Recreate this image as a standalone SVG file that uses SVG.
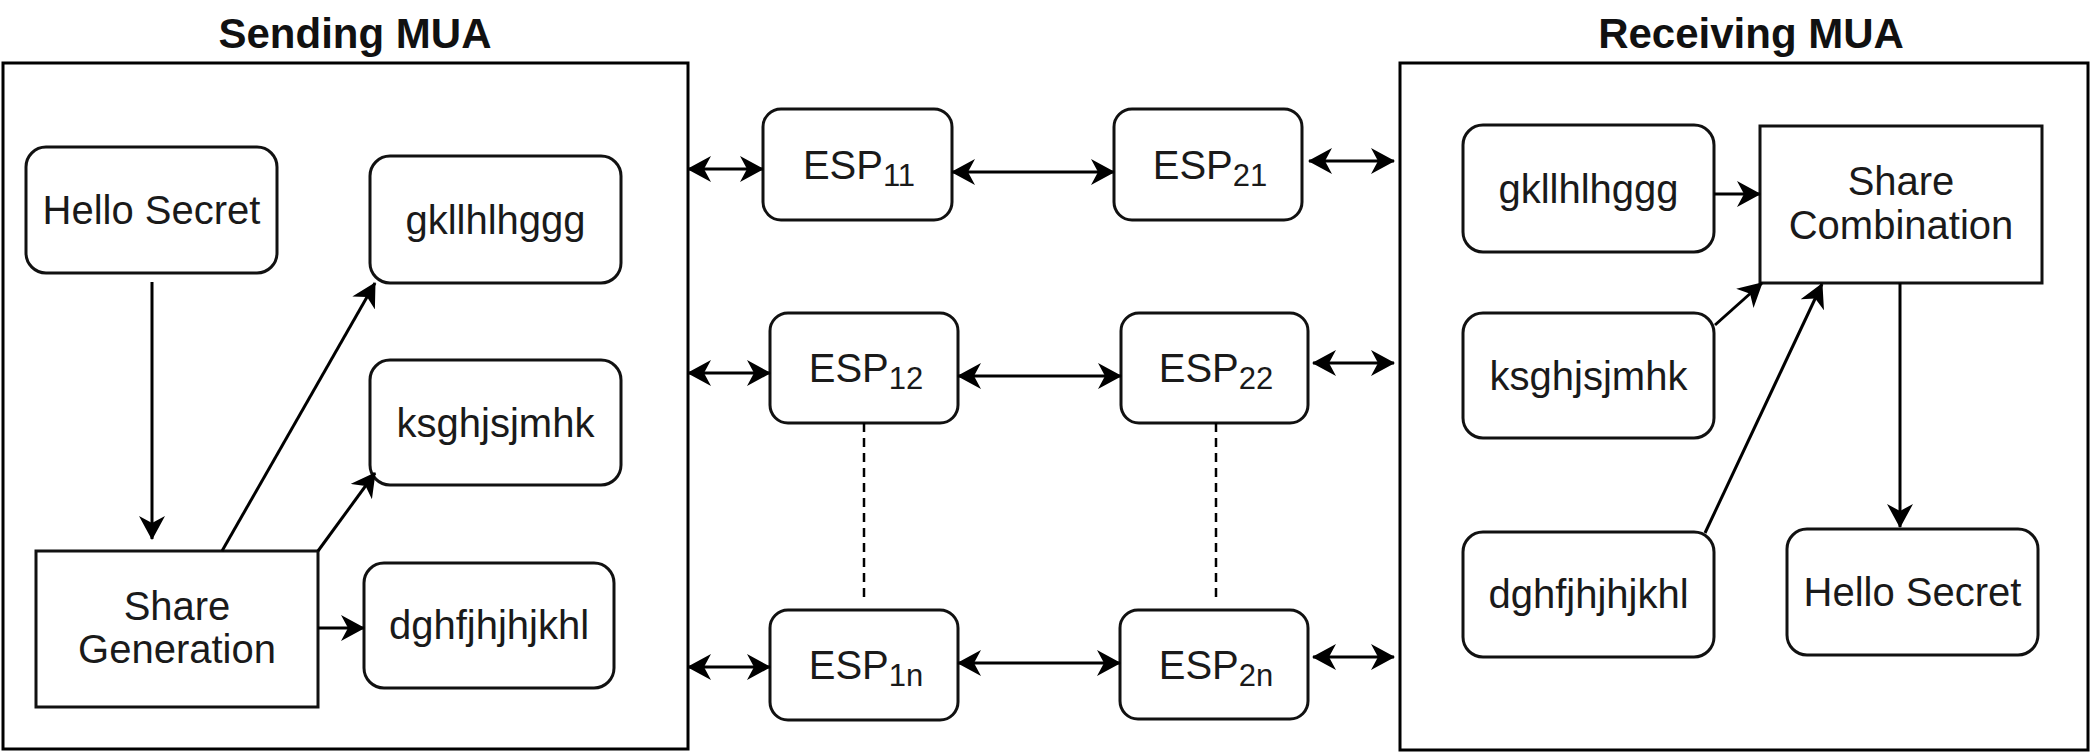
<svg xmlns="http://www.w3.org/2000/svg" width="2091" height="753" viewBox="0 0 2091 753">
<style>
  .frame{fill:#fff;stroke:#000;stroke-width:3}
  .node{fill:#fff;stroke:#111;stroke-width:3}
  .lbl{font-family:"Liberation Sans",Arial,sans-serif;font-size:40px;fill:#1a1a1a;text-anchor:middle}
  .title{font-family:"Liberation Sans",Arial,sans-serif;font-size:42px;font-weight:bold;fill:#111;text-anchor:middle}
  .esp{font-family:"Liberation Sans",Arial,sans-serif;font-size:40px;fill:#1a1a1a;text-anchor:middle}
  .sub{font-size:31px}
  .edge{fill:none;stroke:#000;stroke-width:3}
  .dash{fill:none;stroke:#000;stroke-width:2.5;stroke-dasharray:9 6}
</style>
<defs>
  <marker id="arr" markerUnits="userSpaceOnUse" viewBox="0 0 24 26" refX="23" refY="13" markerWidth="24" markerHeight="26" orient="auto-start-reverse">
    <path d="M0,0 L24,13 L0,26 L7,13 Z" fill="#000"/>
  </marker>
</defs>
<rect width="2091" height="753" fill="#fff"/>

<g id="sending-mua">
  <text class="title" x="355" y="48">Sending MUA</text>
  <rect class="frame" x="3" y="63" width="685" height="686"/>
</g>
<g id="receiving-mua">
  <text class="title" x="1751" y="48">Receiving MUA</text>
  <rect class="frame" x="1400" y="63" width="688" height="687"/>
</g>

<g id="hello-secret-send">
  <rect class="node" x="26" y="147" width="251" height="126" rx="20"/>
  <text class="lbl" x="151.5" y="224">Hello Secret</text>
</g>
<g id="share-generation">
  <rect class="node" x="36" y="551" width="282" height="156"/>
  <text class="lbl" x="177" y="620">Share</text>
  <text class="lbl" x="177" y="663">Generation</text>
</g>
<g id="share1-send">
  <rect class="node" x="370" y="156" width="251" height="127" rx="20"/>
  <text class="lbl" x="495.5" y="234">gkllhlhggg</text>
</g>
<g id="share2-send">
  <rect class="node" x="370" y="360" width="251" height="125" rx="20"/>
  <text class="lbl" x="495.5" y="437">ksghjsjmhk</text>
</g>
<g id="share3-send">
  <rect class="node" x="364" y="563" width="250" height="125" rx="20"/>
  <text class="lbl" x="489" y="639">dghfjhjhjkhl</text>
</g>

<g id="esp11">
  <rect class="node" x="763" y="109" width="189" height="111" rx="18"/>
  <text class="esp" x="859" y="179">ESP<tspan class="sub" dy="7">11</tspan></text>
</g>
<g id="esp21">
  <rect class="node" x="1114" y="109" width="188" height="111" rx="18"/>
  <text class="esp" x="1210" y="179">ESP<tspan class="sub" dy="7">21</tspan></text>
</g>
<g id="esp12">
  <rect class="node" x="770" y="313" width="188" height="110" rx="18"/>
  <text class="esp" x="866" y="382">ESP<tspan class="sub" dy="7">12</tspan></text>
</g>
<g id="esp22">
  <rect class="node" x="1121" y="313" width="187" height="110" rx="18"/>
  <text class="esp" x="1216" y="382">ESP<tspan class="sub" dy="7">22</tspan></text>
</g>
<g id="esp1n">
  <rect class="node" x="770" y="610" width="188" height="110" rx="18"/>
  <text class="esp" x="866" y="679">ESP<tspan class="sub" dy="7">1n</tspan></text>
</g>
<g id="esp2n">
  <rect class="node" x="1120" y="610" width="188" height="109" rx="18"/>
  <text class="esp" x="1216" y="679">ESP<tspan class="sub" dy="7">2n</tspan></text>
</g>

<g id="share1-recv">
  <rect class="node" x="1463" y="125" width="251" height="127" rx="20"/>
  <text class="lbl" x="1588.5" y="203">gkllhlhggg</text>
</g>
<g id="share2-recv">
  <rect class="node" x="1463" y="313" width="251" height="125" rx="20"/>
  <text class="lbl" x="1588.5" y="390">ksghjsjmhk</text>
</g>
<g id="share3-recv">
  <rect class="node" x="1463" y="532" width="251" height="125" rx="20"/>
  <text class="lbl" x="1588.5" y="608">dghfjhjhjkhl</text>
</g>
<g id="share-combination">
  <rect class="node" x="1760" y="126" width="282" height="157"/>
  <text class="lbl" x="1901" y="195">Share</text>
  <text class="lbl" x="1901" y="239">Combination</text>
</g>
<g id="hello-secret-recv">
  <rect class="node" x="1787" y="529" width="251" height="126" rx="20"/>
  <text class="lbl" x="1912.5" y="606">Hello Secret</text>
</g>

<g id="connectors">
  <line class="edge" x1="152" y1="282" x2="152" y2="539" marker-end="url(#arr)"/>
  <line class="edge" x1="222" y1="551" x2="375" y2="283" marker-end="url(#arr)"/>
  <line class="edge" x1="318" y1="551" x2="375" y2="473" marker-end="url(#arr)"/>
  <line class="edge" x1="318" y1="628" x2="364" y2="628" marker-end="url(#arr)"/>

  <line class="edge" x1="688" y1="169" x2="763" y2="169" marker-start="url(#arr)" marker-end="url(#arr)"/>
  <line class="edge" x1="952" y1="172" x2="1114" y2="172" marker-start="url(#arr)" marker-end="url(#arr)"/>
  <line class="edge" x1="1309" y1="161" x2="1394" y2="161" marker-start="url(#arr)" marker-end="url(#arr)"/>

  <line class="edge" x1="688" y1="373" x2="770" y2="373" marker-start="url(#arr)" marker-end="url(#arr)"/>
  <line class="edge" x1="958" y1="376" x2="1121" y2="376" marker-start="url(#arr)" marker-end="url(#arr)"/>
  <line class="edge" x1="1313" y1="363" x2="1394" y2="363" marker-start="url(#arr)" marker-end="url(#arr)"/>

  <line class="edge" x1="688" y1="667" x2="770" y2="667" marker-start="url(#arr)" marker-end="url(#arr)"/>
  <line class="edge" x1="958" y1="663" x2="1120" y2="663" marker-start="url(#arr)" marker-end="url(#arr)"/>
  <line class="edge" x1="1313" y1="657" x2="1394" y2="657" marker-start="url(#arr)" marker-end="url(#arr)"/>

  <line class="dash" x1="864" y1="423" x2="864" y2="602"/>
  <line class="dash" x1="1216" y1="423" x2="1216" y2="602"/>

  <line class="edge" x1="1714" y1="194" x2="1760" y2="194" marker-end="url(#arr)"/>
  <line class="edge" x1="1715" y1="325" x2="1762" y2="283" marker-end="url(#arr)"/>
  <line class="edge" x1="1705" y1="533" x2="1822" y2="284" marker-end="url(#arr)"/>
  <line class="edge" x1="1900" y1="283" x2="1900" y2="527" marker-end="url(#arr)"/>
</g>
</svg>
